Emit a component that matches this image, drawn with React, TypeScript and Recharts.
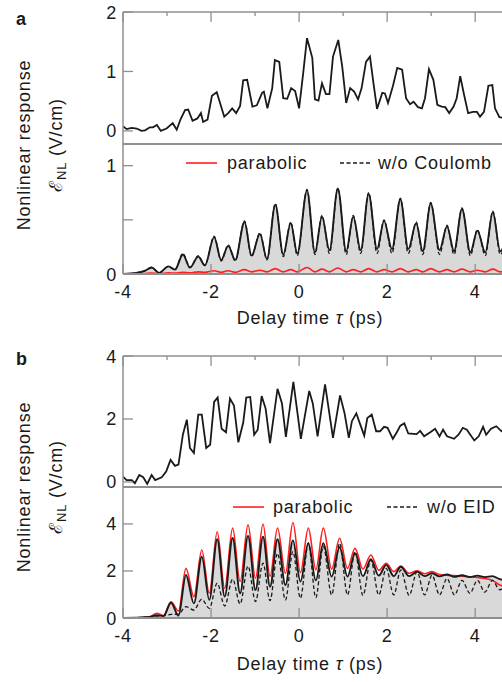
import React from "react";
import { Area, ComposedChart, Line, LineChart, XAxis, YAxis } from "recharts";

// panel a, top: measured response (V/cm)
const tauA1 = [
  -4.0, -3.92, -3.8, -3.69, -3.58, -3.5, -3.39, -3.32, -3.23, -3.14, -3.01, -2.87, -2.78, -2.69, -2.59,
  -2.52, -2.42, -2.31, -2.23, -2.18, -2.08, -1.98, -1.87, -1.7, -1.61, -1.52, -1.43, -1.34, -1.27, -1.18,
  -1.06, -0.96, -0.84, -0.8, -0.72, -0.61, -0.55, -0.45, -0.36, -0.27, -0.18, -0.09, 0.0, 0.09, 0.18,
  0.3, 0.36, 0.44, 0.52, 0.61, 0.69, 0.77, 0.89, 0.98, 1.07, 1.16, 1.25, 1.34, 1.42, 1.52, 1.61, 1.69,
  1.77, 1.89, 1.95, 2.02, 2.13, 2.23, 2.34, 2.43, 2.52, 2.6, 2.7, 2.79, 2.86, 2.95, 3.05, 3.14, 3.24,
  3.32, 3.41, 3.51, 3.58, 3.66, 3.75, 3.84, 3.95, 4.04, 4.11, 4.2, 4.3, 4.39, 4.45, 4.55, 4.64,
];
const measA1 = [
  0.08, 0.03, 0.05, 0.04, 0.0, 0.01, 0.06, 0.06, 0.1, 0.0, 0.04, 0.13, 0.02, 0.2, 0.35, 0.36, 0.17, 0.21,
  0.3, 0.15, 0.19, 0.59, 0.65, 0.24, 0.3, 0.38, 0.3, 0.42, 0.85, 0.86, 0.41, 0.43, 0.64, 0.66, 0.38,
  0.72, 1.19, 1.16, 0.55, 0.54, 0.72, 0.67, 0.38, 0.95, 1.56, 1.23, 0.53, 0.51, 0.8, 0.62, 0.62, 1.25,
  1.53, 1.08, 0.47, 0.72, 0.66, 0.53, 0.72, 1.16, 1.25, 0.8, 0.37, 0.64, 0.63, 0.47, 0.75, 1.06, 1.03,
  0.55, 0.45, 0.49, 0.4, 0.38, 0.55, 1.04, 0.86, 0.44, 0.41, 0.4, 0.3, 0.41, 0.55, 0.92, 0.6, 0.3, 0.32,
  0.32, 0.24, 0.32, 0.76, 0.77, 0.38, 0.23, 0.22,
];

// panel a, bottom: simulation
const tauA2 = [
  -4.0, -3.7, -3.5, -3.35, -3.18, -2.97, -2.82, -2.64, -2.48, -2.29, -2.14, -1.93, -1.77, -1.61, -1.45,
  -1.24, -1.08, -0.89, -0.73, -0.54, -0.36, -0.19, -0.04, 0.18, 0.36, 0.52, 0.69, 0.88, 1.07, 1.23, 1.4,
  1.58, 1.77, 1.93, 2.11, 2.3, 2.48, 2.66, 2.81, 2.99, 3.19, 3.36, 3.52, 3.7, 3.89, 4.05, 4.23, 4.4, 4.57,
  4.72,
];
const fullA2 = [
  0, 0.01, 0.03, 0.06, 0.01, 0.07, 0.04, 0.18, 0.06, 0.16, 0.08, 0.34, 0.13, 0.26, 0.13, 0.48, 0.17, 0.37,
  0.14, 0.64, 0.18, 0.47, 0.19, 0.77, 0.2, 0.53, 0.22, 0.79, 0.21, 0.53, 0.22, 0.74, 0.23, 0.49, 0.23,
  0.69, 0.23, 0.47, 0.21, 0.65, 0.22, 0.44, 0.21, 0.6, 0.2, 0.4, 0.2, 0.57, 0.21, 0.35,
];
const noCoulombA2 = [
  0, 0.01, 0.03, 0.06, 0.01, 0.07, 0.04, 0.19, 0.06, 0.17, 0.08, 0.35, 0.12, 0.27, 0.12, 0.49, 0.16, 0.38,
  0.13, 0.65, 0.16, 0.48, 0.17, 0.78, 0.18, 0.54, 0.19, 0.79, 0.18, 0.54, 0.19, 0.75, 0.19, 0.5, 0.19,
  0.7, 0.19, 0.48, 0.18, 0.66, 0.18, 0.45, 0.18, 0.61, 0.17, 0.41, 0.17, 0.58, 0.18, 0.35,
];
const parabolicA2 = [
  0, 0.0, 0.005, 0.008, 0.005, 0.01, 0.008, 0.015, 0.01, 0.02, 0.015, 0.03, 0.015, 0.03, 0.015, 0.04,
  0.02, 0.035, 0.02, 0.05, 0.02, 0.04, 0.02, 0.06, 0.02, 0.045, 0.02, 0.055, 0.02, 0.04, 0.02, 0.05,
  0.02, 0.04, 0.02, 0.05, 0.02, 0.04, 0.02, 0.05, 0.02, 0.04, 0.02, 0.045, 0.02, 0.035, 0.02, 0.045,
  0.02, 0.03,
];

// panel b, top: measured response
const tauB1 = [
  -4.0, -3.92, -3.8, -3.73, -3.63, -3.54, -3.45, -3.35, -3.27, -3.12, -3.02, -2.92, -2.82, -2.74, -2.64,
  -2.55, -2.48, -2.39, -2.29, -2.21, -2.11, -2.02, -1.93, -1.85, -1.76, -1.66, -1.57, -1.48, -1.38,
  -1.27, -1.2, -1.11, -1.02, -0.94, -0.85, -0.76, -0.66, -0.49, -0.39, -0.3, -0.13, 0.04, 0.23, 0.31,
  0.42, 0.59, 0.77, 0.93, 1.03, 1.13, 1.2, 1.3, 1.39, 1.48, 1.55, 1.65, 1.75, 1.84, 1.93, 2.01, 2.13,
  2.22, 2.3, 2.39, 2.48, 2.6, 2.67, 2.75, 2.84, 2.98, 3.09, 3.19, 3.27, 3.36, 3.52, 3.62, 3.72, 3.81,
  3.98, 4.08, 4.18, 4.25, 4.36, 4.48, 4.58, 4.68,
];
const measB1 = [
  0.17, 0.06, 0.06, -0.04, 0.22, 0.15, -0.06, 0.22, 0.06, 0.15, 0.33, 0.7, 0.51, 0.55, 1.5, 1.98, 1.08,
  0.92, 2.14, 2.14, 1.08, 1.18, 2.54, 2.68, 1.69, 1.58, 2.65, 2.43, 1.26, 1.88, 2.68, 2.7, 1.5, 1.66,
  2.73, 2.33, 1.23, 2.96, 2.5, 1.43, 3.18, 1.37, 2.89, 2.5, 1.45, 3.1, 1.4, 2.75, 2.2, 1.4, 1.93, 2.18,
  1.82, 1.47, 2.03, 2.14, 1.61, 1.61, 1.75, 1.72, 1.37, 1.58, 1.79, 1.86, 1.54, 1.53, 1.52, 1.62, 1.45,
  1.58, 1.69, 1.45, 1.66, 1.45, 1.37, 1.5, 1.72, 1.66, 1.32, 1.45, 1.75, 1.5, 1.69, 1.77, 1.63, 1.55,
];

// panel b, bottom: simulation
const tauB2 = [
  -4.0, -3.6, -3.4, -3.23, -3.08, -2.91, -2.74, -2.57, -2.39, -2.21, -2.04, -1.86, -1.69, -1.51, -1.34,
  -1.16, -0.99, -0.82, -0.66, -0.49, -0.31, -0.14, 0.03, 0.21, 0.38, 0.55, 0.74, 0.92, 1.1, 1.27, 1.45,
  1.63, 1.81, 1.98, 2.15, 2.31, 2.5, 2.68, 2.85, 3.02, 3.19, 3.36, 3.53, 3.7, 3.88, 4.05, 4.22, 4.39,
  4.56, 4.73,
];
const fullB2 = [
  0, 0.02, 0.04, 0.12, 0.08, 0.65, 0.1, 1.83, 0.62, 2.61, 0.77, 3.35, 0.91, 3.4, 1.05, 3.49, 1.19, 3.46,
  1.33, 3.35, 1.4, 3.3, 1.55, 3.18, 1.6, 3.18, 1.76, 3.01, 1.76, 2.76, 1.78, 2.5, 1.8, 2.26, 1.78, 2.18,
  1.78, 1.97, 1.78, 1.9, 1.77, 1.85, 1.75, 1.82, 1.74, 1.8, 1.74, 1.78, 1.65, 1.6,
];
const noEidB2 = [
  0, 0.02, 0.04, 0.08, 0.1, 0.15, 0.17, 0.48, 0.34, 0.8, 0.41, 1.48, 0.51, 1.65, 0.6, 2.21, 0.7, 2.33,
  0.74, 2.75, 0.77, 2.82, 0.84, 3.18, 0.86, 3.05, 0.98, 3.18, 0.98, 2.82, 0.96, 2.47, 0.98, 2.11, 0.98,
  2.04, 0.96, 1.97, 0.98, 1.82, 0.98, 1.68, 0.98, 1.6, 1.05, 1.6, 1.1, 1.6, 1.2, 1.5,
];
const parabolicB2 = [
  0, 0.02, 0.05, 0.2, 0.1, 0.69, 0.3, 2.11, 0.91, 2.89, 1.05, 3.67, 1.26, 3.82, 1.55, 3.96, 1.69, 4.0,
  1.77, 3.82, 1.9, 4.06, 1.93, 3.82, 2.05, 3.82, 2.08, 3.39, 2.11, 2.96, 2.08, 2.68, 2.03, 2.33, 1.97,
  2.21, 1.9, 2.01, 1.88, 1.97, 1.85, 1.82, 1.8, 1.78, 1.75, 1.72, 1.68, 1.6, 1.4, 1.3,
];

const xTicksMinor = [-4, -3, -2, -1, 0, 1, 2, 3, 4];
const xTicksMajor = [-4, -2, 0, 2, 4];

const rowsA1 = tauA1.map((t, i) => ({ t, v: measA1[i] }));
const rowsA2 = tauA2.map((t, i) => ({ t, full: fullA2[i], noC: noCoulombA2[i], par: parabolicA2[i] }));
const rowsB1 = tauB1.map((t, i) => ({ t, v: measB1[i] }));
const rowsB2 = tauB2.map((t, i) => ({ t, full: fullB2[i], noE: noEidB2[i], par: parabolicB2[i] }));

const AXIS = "#8f8f8f";
const INK = "#1a1a1a";
const RED = "#ff1f1f";
const FILL = "#d9d9d9";
const FONT = '"Liberation Sans", Arial, sans-serif';
const W = 520;
const XDOM: [number, number] = [-4, 4.7];

const txt = { fontFamily: FONT, fontSize: 18, fill: INK, letterSpacing: 0.8 };

function TopTick(props: any) {
  const { x, y, payload } = props;
  const len = payload.value % 2 === 0 ? 10 : 4;
  return <line x1={x} x2={x} y1={y} y2={y + len} stroke={AXIS} strokeWidth={1.3} />;
}

function BottomTick(props: any) {
  const { x, y, payload } = props;
  return (
    <g>
      <line x1={x} x2={x} y1={y} y2={y - 10} stroke={AXIS} strokeWidth={1.3} />
      <text x={x} y={y + 24} textAnchor="middle" {...txt}>
        {payload.value}
      </text>
    </g>
  );
}

const leftTick = (labels: number[]) => (props: any) => {
  const { x, y, payload } = props;
  const v = payload.value;
  return (
    <g>
      <line x1={x} x2={x + 10} y1={y} y2={y} stroke={AXIS} strokeWidth={1.3} />
      {labels.includes(v) && (
        <text x={x - 6} y={y + 6.5} textAnchor="end" {...txt}>
          {v}
        </text>
      )}
    </g>
  );
};

// axes are 1px thick (a 0px axis is not drawn), so margins are 1px smaller
function TopPanel({ data, yDomain, yTicks, yLabels, top, height, mTop, mBottom }: any) {
  return (
    <div style={{ position: "absolute", left: 0, top }}>
      <LineChart width={W} height={height} data={data} margin={{ top: mTop - 1, right: 14, bottom: mBottom - 1, left: 122 }}>
        <XAxis
          xAxisId="top"
          orientation="top"
          dataKey="t"
          type="number"
          domain={XDOM}
          allowDataOverflow
          ticks={xTicksMinor}
          interval={0}
          tick={TopTick}
          tickLine={false}
          tickSize={0}
          tickMargin={0}
          height={1}
          axisLine={{ stroke: AXIS, strokeWidth: 1.5 }}
        />
        <XAxis
          xAxisId="div"
          dataKey="t"
          type="number"
          domain={XDOM}
          allowDataOverflow
          tick={false}
          tickLine={false}
          height={1}
          axisLine={{ stroke: AXIS, strokeWidth: 2 }}
        />
        <YAxis
          type="number"
          domain={yDomain}
          allowDataOverflow
          ticks={yTicks}
          interval={0}
          tick={leftTick(yLabels)}
          tickLine={false}
          tickSize={0}
          tickMargin={0}
          width={1}
          axisLine={{ stroke: AXIS, strokeWidth: 1.5 }}
        />
        <Line
          xAxisId="top"
          type="linear"
          dataKey="v"
          stroke={INK}
          strokeWidth={1.8}
          dot={false}
          activeDot={false}
          isAnimationActive={false}
        />
      </LineChart>
    </div>
  );
}

function BottomPanel({ data, yDomain, yTicks, yLabels, top, height, mTop, mBottom, altKey }: any) {
  return (
    <div style={{ position: "absolute", left: 0, top }}>
      <ComposedChart width={W} height={height} data={data} margin={{ top: mTop, right: 14, bottom: mBottom - 1, left: 122 }}>
        <XAxis
          dataKey="t"
          type="number"
          domain={XDOM}
          allowDataOverflow
          ticks={xTicksMajor}
          interval={0}
          tick={BottomTick}
          tickLine={false}
          tickSize={0}
          tickMargin={0}
          height={1}
          axisLine={{ stroke: AXIS, strokeWidth: 2 }}
        />
        <YAxis
          type="number"
          domain={yDomain}
          allowDataOverflow
          ticks={yTicks}
          interval={0}
          tick={leftTick(yLabels)}
          tickLine={false}
          tickSize={0}
          tickMargin={0}
          width={1}
          axisLine={{ stroke: AXIS, strokeWidth: 1.5 }}
        />
        <Area
          type="monotone"
          dataKey="full"
          fill={FILL}
          fillOpacity={1}
          stroke="none"
          baseValue={0}
          isAnimationActive={false}
          activeDot={false}
        />
        <Line type="monotone" dataKey="par" stroke={RED} strokeWidth={1.6} dot={false} activeDot={false} isAnimationActive={false} />
        <Line type="monotone" dataKey="full" stroke={INK} strokeWidth={1.9} dot={false} activeDot={false} isAnimationActive={false} />
        <Line
          type="monotone"
          dataKey={altKey}
          stroke={INK}
          strokeWidth={1.3}
          strokeDasharray="4 2.5"
          dot={false}
          activeDot={false}
          isAnimationActive={false}
        />
      </ComposedChart>
    </div>
  );
}

function YLabel({ cy }: { cy: number }) {
  return (
    <g>
      <text transform={`translate(30, ${cy}) rotate(-90)`} textAnchor="middle" {...txt}>
        Nonlinear response
      </text>
      <text transform={`translate(62, ${cy}) rotate(-90)`} textAnchor="middle" {...txt}>
        <tspan>ℰ</tspan>
        <tspan fontSize={13} dy={4}>
          NL
        </tspan>
        <tspan dy={-4}> (V/cm)</tspan>
      </text>
    </g>
  );
}

function Legend({ y, x1, x2, x3, x4, label }: any) {
  return (
    <g>
      <line x1={x1} x2={x1 + 31} y1={y} y2={y} stroke={RED} strokeWidth={1.6} />
      <text x={x2} y={y + 6} {...txt}>
        parabolic
      </text>
      <line x1={x3} x2={x3 + 31} y1={y} y2={y} stroke={INK} strokeWidth={1.3} strokeDasharray="4 2.5" />
      <text x={x4} y={y + 6} {...txt}>
        {label}
      </text>
    </g>
  );
}

export default function App() {
  return (
    <div
      style={{
        position: "absolute",
        left: 0,
        top: 0,
        width: 502,
        height: 682,
        overflow: "hidden",
        background: "#fff",
      }}
    >
      <TopPanel data={rowsA1} yDomain={[-0.22, 2]} yTicks={[0, 1, 2]} yLabels={[0, 1, 2]} top={0} height={150} mTop={12} mBottom={6} />
      <BottomPanel
        data={rowsA2}
        yDomain={[0, 1.2]}
        yTicks={[0, 0.5, 1]}
        yLabels={[0, 1]}
        top={130}
        height={200}
        mTop={14}
        mBottom={56}
        altKey="noC"
      />
      <TopPanel data={rowsB1} yDomain={[-0.16, 4]} yTicks={[0, 2, 4]} yLabels={[0, 2, 4]} top={340} height={160} mTop={16} mBottom={13} />
      <BottomPanel
        data={rowsB2}
        yDomain={[0, 5.57]}
        yTicks={[0, 2, 4]}
        yLabels={[0, 2, 4]}
        top={475}
        height={190}
        mTop={12}
        mBottom={47}
        altKey="noE"
      />
      <svg width={502} height={682} style={{ position: "absolute", left: 0, top: 0, pointerEvents: "none" }}>
        <text x={16} y={25} {...txt} fontWeight="bold">
          a
        </text>
        <text x={16} y={365} {...txt} fontWeight="bold">
          b
        </text>
        <YLabel cy={145} />
        <YLabel cy={487} />
        <text x={310} y={324} textAnchor="middle" {...txt}>
          Delay time <tspan fontStyle="italic">τ</tspan> (ps)
        </text>
        <text x={310} y={670} textAnchor="middle" {...txt}>
          Delay time <tspan fontStyle="italic">τ</tspan> (ps)
        </text>
        <Legend y={163} x1={186} x2={227} x3={340} x4={378} label="w/o Coulomb" />
        <Legend y={507} x1={233} x2={273} x3={387} x4={427} label="w/o EID" />
      </svg>
    </div>
  );
}
